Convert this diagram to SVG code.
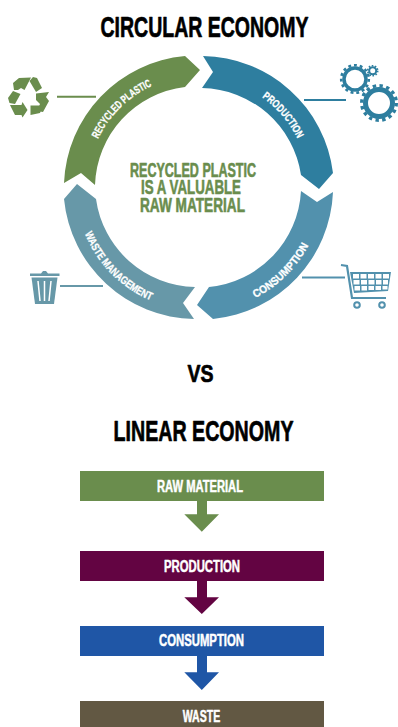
<svg xmlns="http://www.w3.org/2000/svg" width="398" height="727" viewBox="0 0 398 727">
<style>
text{font-family:"Liberation Sans",Arial,sans-serif;font-weight:700;text-anchor:start;stroke-linejoin:round}
.t{fill:#000;stroke:#000;stroke-width:.7px}
.a{font-size:11px;fill:#fff;stroke:#fff;stroke-width:.3px}
.b{font-size:16px;fill:#fff;stroke:#fff;stroke-width:.5px}
.c{font-size:19.5px;fill:#6a8d4d;stroke:#6a8d4d;stroke-width:.6px}
.g{fill:#6a8d4d}.p{fill:#2e7e9f}.n{fill:#5291ad}.m{fill:#6798a8}
.l{stroke-width:2;fill:none}
</style>
<defs>
<path id="pr" d="M98.1 138.9A112 112 0 0 1 152.2 85.7"/>
<path id="pp" d="M262.1 97.4A110 110 0 0 1 297.4 138.5"/>
<path id="pc" d="M255.3 298A124 124 0 0 0 308.4 245.7"/>
<path id="pw" d="M84.9 233.6A123 123 0 0 0 151 300.7"/>
</defs>
<rect width="398" height="727" fill="#fff"/>
<text class="t" x="100.500" y="36.500" font-size="30" textLength="208" lengthAdjust="spacingAndGlyphs">CIRCULAR ECONOMY</text>
<g id="node-recycled">
<path class="g" d="M64 183L81 173L95 185A102 102 0 0 1 185 87L200 70L185 56A133 133 0 0 0 64 183Z"/>
<text class="a"><textPath href="#pr" textLength="77" lengthAdjust="spacingAndGlyphs">RECYCLED PLASTIC</textPath></text>
</g>
<g id="node-production">
<path class="p" d="M203 56L213 72L202 88A102 102 0 0 1 301 175L319 189L333 173A133 133 0 0 0 203 56Z"/>
<text class="a"><textPath href="#pp" textLength="55" lengthAdjust="spacingAndGlyphs">PRODUCTION</textPath></text>
</g>
<g id="node-consumption">
<path class="n" d="M333 192L317 202L301 191A102 102 0 0 1 209 287L197 305L213 319A133 133 0 0 0 333 192Z"/>
<text class="a"><textPath href="#pc" textLength="76" lengthAdjust="spacingAndGlyphs">CONSUMPTION</textPath></text>
</g>
<g id="node-waste">
<path class="m" d="M194 319L183 303L195 287A102 102 0 0 1 96 199L77 184L64 199A133 133 0 0 0 194 319Z"/>
<text class="a"><textPath href="#pw" textLength="96" lengthAdjust="spacingAndGlyphs">WASTE MANAGEMENT</textPath></text>
</g>
<g id="node-center">
<text class="c" x="130" y="176.500" textLength="126" lengthAdjust="spacingAndGlyphs">RECYCLED PLASTIC</text>
<text class="c" x="141" y="194" textLength="100" lengthAdjust="spacingAndGlyphs">IS A VALUABLE</text>
<text class="c" x="140" y="212" textLength="105" lengthAdjust="spacingAndGlyphs">RAW MATERIAL</text>
</g>
<g id="connectors">
<path class="l" stroke="#6a8d4d" d="M57 96.700H96"/>
<path class="l" stroke="#2e7e9f" d="M304 100H346"/>
<path class="l" stroke="#5291ad" d="M302 277.500H345"/>
<path class="l" stroke="#6798a8" d="M60 286H103"/>
<path fill="#6a8d4d" d="M197 501H207V514.300H219L201.800 531.700L184.300 514.300H197Z"/>
<path fill="#630442" d="M197 581H207V597.300H219L201.800 614L184.300 597.300H197Z"/>
<path fill="#1f56a6" d="M197 656H207V672.300H219L201.800 690L184.300 672.300H197Z"/>
</g>
<g id="icon-recycle" class="g">
<path d="M13 83L19 78L31 77.500L24.500 90L21 88L18 90L14 90Z"/>
<path d="M29.500 81L33 77L37 78L42 88L36 92Z"/>
<path d="M36 93.500L49 92L46 97L49 101L43 112L37 111L40 104L36 100Z"/>
<path d="M30.500 105.500H43L40 113L30.500 115Z"/>
<path d="M10 105H21.500L22.500 102L27.500 110L22.500 117.500L21.500 115H15Z"/>
<path d="M13 91L20.500 94L15 104L9.500 103L8 98Z"/>
</g>
<g id="icon-gears" fill="none" stroke="#2e7e9f">
<circle cx="379" cy="103" r="13.500" stroke-width="5"/>
<circle cx="379" cy="103" r="17.300" stroke-width="3.400" stroke-dasharray="3.400 3.390"/>
<circle cx="355" cy="79" r="11" stroke-width="3.500"/>
<circle cx="355" cy="79" r="13.800" stroke-width="2.600" stroke-dasharray="2.900 2.880"/>
<circle cx="372.700" cy="70.700" r="3.500" stroke-width="2"/>
<circle cx="372.700" cy="70.700" r="5" stroke-width="1.600" stroke-dasharray="1.600 1.540"/>
</g>
<g id="icon-cart">
<path d="M341 265L347 266L352 298H386" fill="none" stroke="#5291ad" stroke-width="2.200"/>
<path class="n" d="M350 272H391L388 291L354 293Z"/>
<path d="M353 274h6v4.500h-6zM360.500 274h6v4.500h-6zM368 274h6v4.500h-6zM375.500 274h6v4.500h-6zM383 274h6v4.500h-6zM353.500 280h6v4.500h-6zM361 280h6v4.500h-6zM368.500 280h6v4.500h-6zM376 280h5.500v4.500h-5.500zM383 280h5v4.500h-5zM354.500 286h5.500v4.500h-5.500zM361.500 286h5.500v4.500h-5.500zM368.500 286h5.500v4h-5.500zM375.500 286h5.500v4h-5.500zM382.500 286h5v3.500h-5z" fill="#fff"/>
<circle cx="357" cy="305" r="2.800" fill="#fff" stroke="#5291ad" stroke-width="2"/>
<circle cx="382" cy="305" r="2.800" fill="#fff" stroke="#5291ad" stroke-width="2"/>
</g>
<g id="icon-trash">
<path class="m" d="M30 273.500H41L43 271H46L48 273.500H59.500V276H30Z"/>
<path class="m" d="M31.500 277.500H57.500L54 304H35Z"/>
<path d="M38 281L40 301M44.500 281V301M51 281L49 301" stroke="#fff" stroke-width="1.500"/>
</g>
<text class="t" x="187.500" y="381.500" font-size="23" textLength="26" lengthAdjust="spacingAndGlyphs">VS</text>
<text class="t" x="113.500" y="440.500" font-size="30" textLength="180" lengthAdjust="spacingAndGlyphs">LINEAR ECONOMY</text>
<g id="bar-raw"><rect x="80" y="471" width="244" height="30" fill="#6a8d4d"/><text class="b" x="157" y="492" textLength="86" lengthAdjust="spacingAndGlyphs">RAW MATERIAL</text></g>
<g id="bar-production"><rect x="80" y="551" width="244" height="30" fill="#630442"/><text class="b" x="164" y="571.700" textLength="76" lengthAdjust="spacingAndGlyphs">PRODUCTION</text></g>
<g id="bar-consumption"><rect x="80" y="626" width="244" height="30" fill="#1f56a6"/><text class="b" x="159" y="645.700" textLength="85" lengthAdjust="spacingAndGlyphs">CONSUMPTION</text></g>
<g id="bar-waste"><rect x="80" y="701" width="244" height="26" fill="#625843"/><text class="b" x="182.700" y="721.700" textLength="37.500" lengthAdjust="spacingAndGlyphs">WASTE</text></g>
</svg>
